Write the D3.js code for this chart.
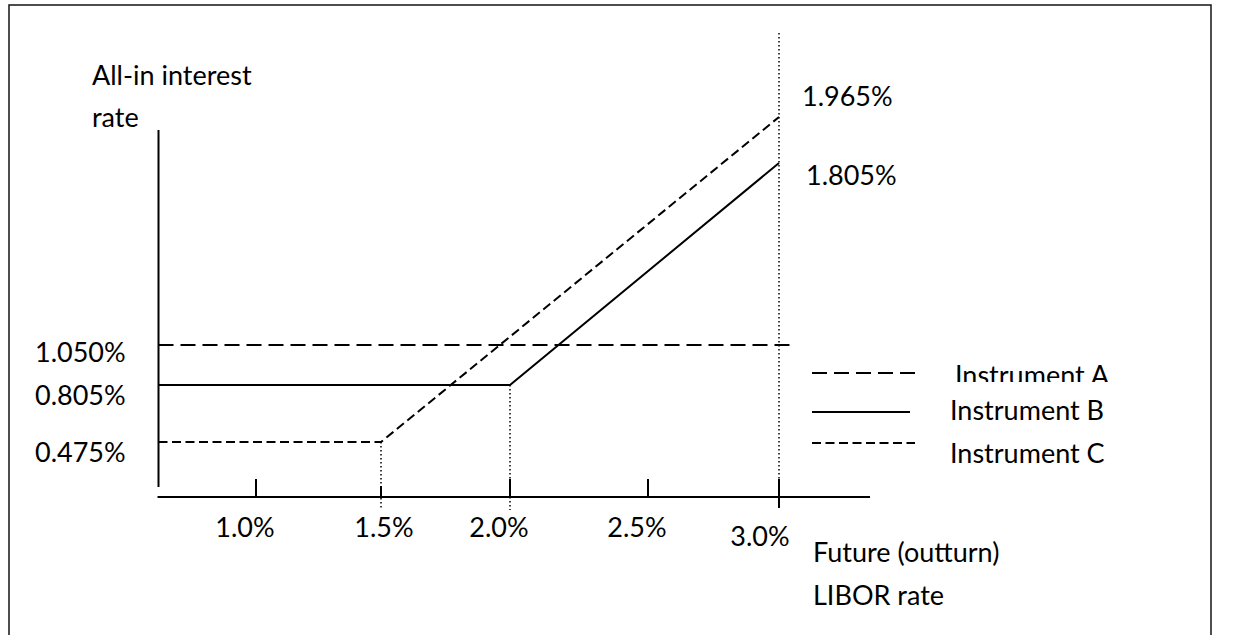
<!DOCTYPE html>
<html>
<head>
<meta charset="utf-8">
<script src="https://cdn.jsdelivr.net/npm/d3@7"></script>
<style>
  html, body { margin: 0; padding: 0; background: #fff; }
  svg { display: block; }
  text { font-family: Lato, "Open Sans", sans-serif; font-size: 27px; fill: #000; }
</style>
</head>
<body>
<svg id="chart" width="1233" height="635"></svg>
<script>
// ---------- data ----------
const xTicks = [1.0, 1.5, 2.0, 2.5, 3.0];
const xTickLabels = ["1.0%", "1.5%", "2.0%", "2.5%", "3.0%"];
const yMarks = [0.475, 0.805, 1.050, 1.805, 1.965];
const yLeftLabels = [1.050, 0.805, 0.475];
const instrumentA = [[0.61, 1.050], [3.04, 1.050]];
const instrumentB = [[0.61, 0.805], [2.0, 0.805], [3.0, 1.805]];
const instrumentC = [[0.61, 0.475], [1.5, 0.475], [3.0, 1.965]];
const seriesNames = ["Instrument A", "Instrument B", "Instrument C"];
const endValues = [1.965, 1.805];
const yTitle = ["All-in interest", "rate"];
const xTitle = ["Future (outturn)", "LIBOR rate"];

// ---------- scales (schematic, hand-drawn spacing) ----------
const x = d3.scaleLinear().domain(xTicks).range([256, 381, 510, 648, 779]);
const y = d3.scaleLinear().domain(yMarks).range([442, 385, 345, 163, 117]);

const svg = d3.select("#chart");
const fmt = v => v.toFixed(3) + "%";

// frame
svg.append("rect").attr("x", 9).attr("y", 5).attr("width", 1202).attr("height", 660)
  .attr("fill", "none").attr("stroke", "#222").attr("stroke-width", 1.6);

// axes
const x0 = x(0.61);
svg.append("line").attr("x1", x0).attr("x2", x0).attr("y1", 130).attr("y2", 487)
  .attr("stroke", "#000").attr("stroke-width", 2);
svg.append("line").attr("x1", x0 - 1).attr("x2", 870).attr("y1", 497).attr("y2", 497)
  .attr("stroke", "#000").attr("stroke-width", 2);

// dotted guides
const dotted = (xv, y1, y2) => svg.append("line")
  .attr("x1", x(xv)).attr("x2", x(xv)).attr("y1", y1).attr("y2", y2)
  .attr("stroke", "#000").attr("stroke-width", 1.5).attr("stroke-dasharray", "1.5,2.5");
dotted(1.5, y(0.475), 508);
dotted(2.0, y(0.805), 510);
dotted(3.0, 33, 483);

// ticks
xTicks.forEach((v, i) => {
  svg.append("line").attr("x1", x(v)).attr("x2", x(v))
    .attr("y1", v === 1.5 ? 486 : 479).attr("y2", v === 3.0 ? 508 : 497)
    .attr("stroke", "#000").attr("stroke-width", 2);
  svg.append("text").attr("x", x(v) - (v === 3.0 ? 19 : (v === 1.5 ? -3 : 11)))
    .attr("y", v === 3.0 ? 546 : 537).attr("text-anchor", "middle").text(xTickLabels[i]);
});

// series lines
const line = d3.line().x(d => x(d[0])).y(d => y(d[1]));
const styles = [
  { data: instrumentA, dash: "15,7" },
  { data: instrumentB, dash: null },
  { data: instrumentC, dash: "9,4.5" }
];
styles.forEach(s => {
  svg.append("path").datum(s.data).attr("d", line)
    .attr("fill", "none").attr("stroke", "#000").attr("stroke-width", 2)
    .attr("stroke-dasharray", s.dash);
});

// left value labels
yLeftLabels.forEach(v => {
  svg.append("text").attr("x", 35).attr("y", y(v) + (v === 1.050 ? 17 : 20)).text(fmt(v));
});

// end labels
svg.append("text").attr("x", 802).attr("y", y(endValues[0]) - 11).text(fmt(endValues[0]));
svg.append("text").attr("x", 806).attr("y", y(endValues[1]) + 22).text(fmt(endValues[1]));

// titles
svg.append("text").attr("x", 92).attr("y", 85).text(yTitle[0]);
svg.append("text").attr("x", 92).attr("y", 127).text(yTitle[1]);
svg.append("text").attr("x", 813).attr("y", 562).text(xTitle[0]);
svg.append("text").attr("x", 813).attr("y", 605).text(xTitle[1]);

// legend
svg.append("clipPath").attr("id", "clipA").append("rect")
  .attr("x", 900).attr("y", 340).attr("width", 300).attr("height", 42);
const legY = [373, 412, 443];
const legTextY = [385, 420, 463];
const legTextX = [955, 950, 950];
styles.forEach((s, i) => {
  svg.append("line").attr("x1", 812).attr("x2", i === 1 ? 910 : 915)
    .attr("y1", legY[i]).attr("y2", legY[i])
    .attr("stroke", "#000").attr("stroke-width", 2).attr("stroke-dasharray", s.dash);
  const t = svg.append("text").attr("x", legTextX[i]).attr("y", legTextY[i]).text(seriesNames[i]);
  if (i === 0) t.attr("clip-path", "url(#clipA)");
});
</script>
</body>
</html>
